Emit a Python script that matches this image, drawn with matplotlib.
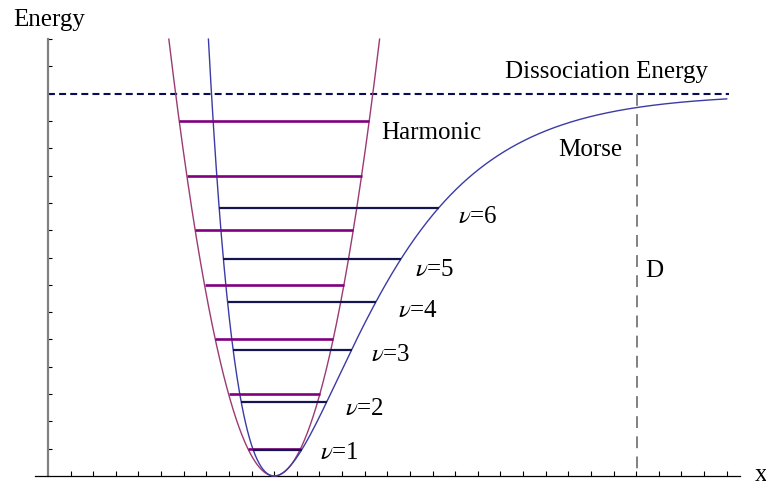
import numpy as np
import matplotlib
matplotlib.use("Agg")
import matplotlib.pyplot as plt

plt.rcParams['font.family'] = ['Liberation Serif', 'DejaVu Serif']
plt.rcParams['mathtext.fontset'] = 'stix'
plt.rcParams['lines.scale_dashes'] = False

# ---- data ----
D_energy = 14.0          # dissociation energy
x_eq = 2.5               # equilibrium position
a_morse = 1.0            # Morse width parameter
k_harm = 11.8            # harmonic curvature (V = k (x - x_eq)^2)
x_max = 7.5
y_top = 16.0
harmonic_levels = [1, 3, 5, 7, 9, 11, 13]
morse_levels = [0.96, 2.71, 4.62, 6.38, 7.95, 9.82]
morse_labels = ["1", "2", "3", "4", "5", "6"]
label_x = [3.006, 3.282, 3.569, 3.867, 4.055, 4.53]
label_y = [0.88, 2.49, 4.47, 6.08, 7.58, 9.52]
d_line_x = 6.51

fig = plt.figure(figsize=(7.66, 4.85), dpi=100)
ax = fig.add_axes([0, 0, 1, 1])
ax.set_xlim(-0.530, 7.934)
ax.set_ylim(-0.293, 17.47)
ax.patch.set_visible(False)

def morse(x):
    return D_energy * (1 - np.exp(-a_morse * (x - x_eq))) ** 2

def harm(x):
    return k_harm * (x - x_eq) ** 2

# curves
xl_m = x_eq - np.log(1 + np.sqrt(y_top / D_energy)) / a_morse
xm = np.linspace(xl_m, x_max, 800)
xh_half = np.sqrt(y_top / k_harm)
xh = np.linspace(x_eq - xh_half, x_eq + xh_half, 600)

harm_col = '#9b3a73'
morse_col = '#3b3ba6'
ax.plot(xh, harm(xh), color=harm_col, lw=1.0, zorder=3)
ax.plot(xm, morse(xm), color=morse_col, lw=1.0, zorder=3)

# harmonic levels
for E in harmonic_levels:
    h = np.sqrt(E / k_harm)
    ax.plot([x_eq - h, x_eq + h], [E, E], color='#800080', lw=1.9,
            solid_capstyle='butt', zorder=4)

# Morse levels
for E in morse_levels:
    s = np.sqrt(E / D_energy)
    xl = x_eq - np.log(1 + s) / a_morse
    xr = x_eq - np.log(1 - s) / a_morse
    ax.plot([xl, xr], [E, E], color='#141450', lw=1.6,
            solid_capstyle='butt', zorder=5)

# dissociation energy line
ax.plot([0, x_max + 0.02], [D_energy, D_energy], color='#0a0a55', lw=1.5,
        dashes=(5, 3), zorder=2)
# D vertical dashed line (drawn from the top down)
ax.plot([d_line_x, d_line_x], [D_energy, 0], color='#808080', lw=1.4,
        dashes=(8.5, 6), zorder=2)

# axes
for s in ['top', 'right']:
    ax.spines[s].set_visible(False)
ax.spines['left'].set_position(('data', 0))
ax.spines['bottom'].set_position(('data', 0))
ax.spines['left'].set_bounds(0, y_top)
ax.spines['bottom'].set_bounds(-0.144, 7.646)
ax.spines['left'].set_color('#808080')
ax.spines['left'].set_linewidth(1.6)
ax.spines['bottom'].set_color('black')
ax.spines['bottom'].set_linewidth(0.9)
ax.set_xticks(np.arange(0.25, 7.51, 0.25))
ax.set_yticks(np.arange(1, 16.01, 1))
ax.tick_params(axis='x', direction='in', length=3.5, width=0.8, color='black',
               labelbottom=False)
ax.tick_params(axis='y', direction='in', length=3.0, width=0.8, color='black',
               labelleft=False)

fs = 18
ax.text(-0.387, 16.72, "Energy", fontsize=fs, ha='left', va='center')
ax.text(5.05, 14.84, "Dissociation Energy", fontsize=fs, ha='left', va='center')
ax.text(3.68, 12.6, "Harmonic", fontsize=fs, ha='left', va='center')
ax.text(5.635, 11.98, "Morse", fontsize=fs, ha='left', va='center')
ax.text(6.597, 7.55, "D", fontsize=fs, ha='left', va='center')
ax.text(7.81, 0.07, "x", fontsize=fs, ha='left', va='center')
for lx, ly, lab in zip(label_x, label_y, morse_labels):
    ax.text(lx, ly, r"$\nu$=" + lab, fontsize=fs, ha='left', va='center')

fig.savefig("out.png", dpi=100)
